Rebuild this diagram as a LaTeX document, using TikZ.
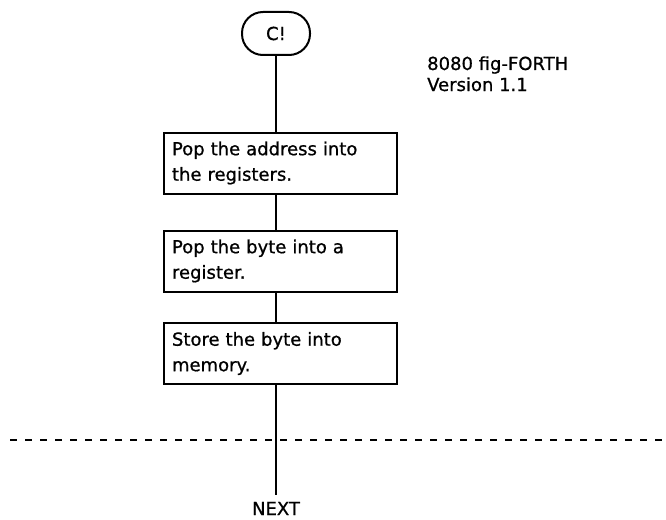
\documentclass[tikz,border=0pt]{standalone}
\usepackage{fontspec}
\setmainfont{DejaVu Sans}[FakeBold=0.8]
\usetikzlibrary{calc}
\begin{document}
\begin{tikzpicture}[x=1pt,y=1pt,
  every node/.style={font=\fontsize{18}{25.5}\selectfont},
  flowline/.style={line width=2.2pt},
  stepbox/.style={draw, line width=2pt, minimum width=233pt, minimum height=61pt,
    text width=217pt, inner xsep=8pt, align=left},
  termbox/.style={draw, line width=2pt, rounded corners=21pt, minimum width=68pt,
    minimum height=43pt},
  sepline/.style={line width=1.8pt, dash pattern=on 7pt off 8pt}]
\useasboundingbox (0,0) rectangle (666,-519);
\node[termbox] (t) at (276,-33.5) {C!};
\node[anchor=base west, inner sep=0pt] (v1) at (427,-70) {8080 fig-FORTH};
\node[anchor=base west, inner sep=0pt] (v2) at (427,-91) {Version 1.1};
\node[stepbox] (b1) at (280.5,-163) {Pop the address into\\the registers.};
\node[stepbox] (b2) at (280.5,-261) {Pop the byte into a\\register.};
\node[stepbox] (b3) at (280.5,-353.5) {Store the byte into\\memory.};
\node[anchor=base, inner sep=0pt] (next) at (276,-515) {NEXT};
\coordinate (dl) at (10,-440);
\coordinate (dr) at (666,-440);
\draw[flowline] (t.south) -- (t.south |- b1.north);
\draw[flowline] (t.south |- b1.south) -- (t.south |- b2.north);
\draw[flowline] (t.south |- b2.south) -- (t.south |- b3.north);
\draw[flowline, shorten >=7pt] (t.south |- b3.south) -- (next.north);
\draw[sepline] (dl) -- (dr);
\end{tikzpicture}
\end{document}
